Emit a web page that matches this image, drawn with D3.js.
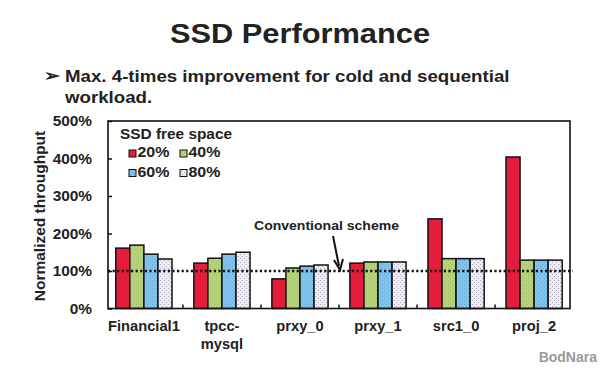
<!DOCTYPE html>
<html>
<head>
<meta charset="utf-8">
<script src="https://d3js.org/d3.v7.min.js"></script>
<style>
  body { margin: 0; background: #fff; }
  svg text { font-family: "Liberation Sans", Arial, sans-serif; font-weight: bold; fill: #222; }
</style>
</head>
<body>
<svg width="600" height="371"></svg>
<script>
// data
const categories = ['Financial1', 'tpcc-mysql', 'prxy_0', 'prxy_1', 'src1_0', 'proj_2']
const seriesNames = ['20%', '40%', '60%', '80%']
const free20 = [161, 121, 79, 121, 239, 404]
const free40 = [169, 134, 108, 124, 133, 129]
const free60 = [145, 145, 113, 124, 133, 129]
const free80 = [132, 150, 116, 124, 133, 129]
const yTicks = [0, 100, 200, 300, 400, 500]
const baseline = 100

const colors = ['#e41d3c', '#b7d47c', '#85c4ea', '#efedf3']

const svg = d3.select('svg')
const defs = svg.append('defs')

// speckle patterns, like the printed hatching
const patterns = ['pRed', 'pGreen', 'pBlue', 'pWhite']
const dotCol = [null, '#9bb860', '#5fa5d2', '#a8a4b8']
patterns.forEach((id, i) => {
    const p = defs.append('pattern').attr('id', id)
        .attr('width', 4).attr('height', 4).attr('patternUnits', 'userSpaceOnUse')
    p.append('rect').attr('width', 4).attr('height', 4).attr('fill', colors[i])
    if (dotCol[i]) {
        p.append('rect').attr('x', 0).attr('y', 0).attr('width', 1).attr('height', 1).attr('fill', dotCol[i])
        p.append('rect').attr('x', 2).attr('y', 2).attr('width', 1).attr('height', 1).attr('fill', dotCol[i])
    }
})

// the scanned slide is a bit wider than plain Arial, so text gets a small x-stretch
function label(px, py, txt, size, anchor, sx) {
    return svg.append('text')
        .attr('transform', `translate(${px},${py}) scale(${sx || 1.1},1)`)
        .attr('text-anchor', anchor || 'start')
        .style('font-size', size + 'px')
        .text(txt)
}

const pLeft = 108, pRight = 570, pTop = 121, pBottom = 308.5

const x = d3.scaleBand().domain(categories).range([pLeft, pRight]).paddingInner(0.28).paddingOuter(0.1)
const xs = d3.scaleBand().domain(seriesNames).range([0, x.bandwidth()])
const y = d3.scaleLinear().domain([0, 500]).range([pBottom, pTop])

// title
label(300, 43, 'SSD Performance', 28, 'middle')
label(44, 81, '\u27A2', 16, 'start', 1.2)
label(65, 82, 'Max. 4-times improvement for cold and sequential', 17)
label(65, 103, 'workload.', 17)

// bars
const table = categories.map((c, i) => ({c, v: [free20[i], free40[i], free60[i], free80[i]]}))
const g = svg.selectAll('g.grp').data(table).enter().append('g')
    .attr('transform', d => `translate(${x(d.c)},0)`)
g.selectAll('rect').data(d => d.v.map((v, j) => ({v, j}))).enter().append('rect')
    .attr('x', d => xs(seriesNames[d.j]))
    .attr('y', d => y(d.v))
    .attr('width', xs.bandwidth())
    .attr('height', d => pBottom - y(d.v))
    .attr('fill', d => `url(#${patterns[d.j]})`)
    .attr('stroke', '#111')
    .attr('stroke-width', 1.5)

// conventional scheme line
svg.append('line').attr('x1', pLeft).attr('x2', pRight + 3)
    .attr('y1', y(baseline)).attr('y2', y(baseline))
    .attr('stroke', '#111').attr('stroke-width', 2.4).attr('stroke-dasharray', '2.2,2.4')

// frame
svg.append('rect').attr('x', pLeft).attr('y', pTop).attr('width', pRight - pLeft).attr('height', pBottom - pTop)
    .attr('fill', 'none').attr('stroke', '#111').attr('stroke-width', 1.6)

// y axis
const yAxis = d3.axisLeft(y).tickValues(yTicks).tickSize(-4).tickFormat(d => d + '%')
const ya = svg.append('g').attr('transform', `translate(${pLeft},0)`).call(yAxis)
ya.select('.domain').remove()
ya.selectAll('line').attr('stroke', '#111').attr('stroke-width', 1.5)
ya.selectAll('text').remove()
yTicks.forEach(t => label(92, y(t) + 5, t + '%', 14, 'end'))

// x ticks between groups
const step = x.step()
const bounds = categories.slice(1).map(c => x(c) - step * x.paddingInner() / 2)
svg.selectAll('line.xt').data(bounds).enter().append('line')
    .attr('x1', d => d).attr('x2', d => d).attr('y1', pBottom).attr('y2', pBottom - 4)
    .attr('stroke', '#111').attr('stroke-width', 1.5)

// category labels
const labelLines = {'tpcc-mysql': ['tpcc-', 'mysql']}
categories.forEach(c => {
    const lines = labelLines[c] || [c]
    lines.forEach((t, k) => label(x(c) + x.bandwidth() / 2, 331 + k * 18, t, 14, 'middle', 1.05))
})

// y label
svg.append('text').attr('transform', 'translate(45,216) rotate(-90)').attr('text-anchor', 'middle')
    .style('font-size', '15.5px').text('Normalized throughput')

// legend
label(120, 139, 'SSD free space', 14)
seriesNames.forEach((s, i) => {
    const lx = 129 + (i % 2) * 51
    const ly = 157 + Math.floor(i / 2) * 19.5
    svg.append('rect').attr('x', lx).attr('y', ly - 7).attr('width', 7).attr('height', 7)
        .attr('fill', `url(#${patterns[i]})`).attr('stroke', '#111').attr('stroke-width', 1)
    label(lx + 8.5, ly, s, 14.5)
})

// annotation
label(254, 230, 'Conventional scheme', 13, 'start', 1.08)
svg.append('line').attr('x1', 333).attr('y1', 236).attr('x2', 339).attr('y2', 266)
    .attr('stroke', '#111').attr('stroke-width', 2)
svg.append('path').attr('d', 'M334,260 L340,270 L343,259')
    .attr('fill', 'none').attr('stroke', '#111').attr('stroke-width', 2)

// watermark
svg.append('text').attr('x', 597).attr('y', 362).attr('text-anchor', 'end')
    .style('font-size', '14px').style('fill', '#9a9a9a').text('BodNara')
</script>
</body>
</html>
